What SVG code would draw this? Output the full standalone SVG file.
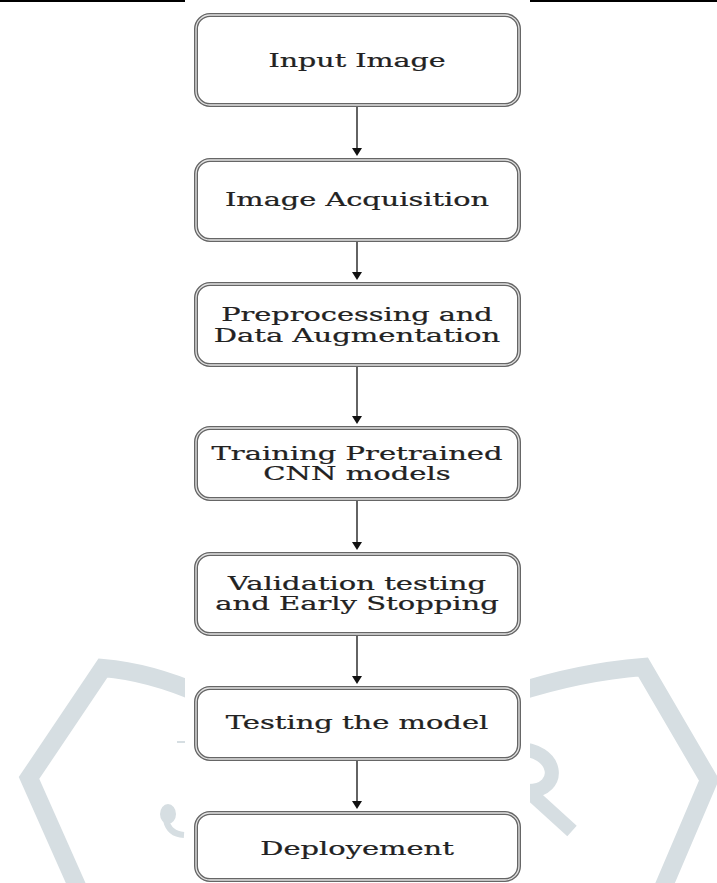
<svg xmlns="http://www.w3.org/2000/svg" width="717" height="883" viewBox="0 0 717 883">
<defs>
<style>
.wm{fill:none;stroke:#d6dee2;stroke-width:18;stroke-linejoin:miter;stroke-miterlimit:10}
.box{fill:#ffffff;stroke:#666666;stroke-width:4}
.inner{fill:none;stroke:#e4e4e4;stroke-width:1.3}
.lbl{font-family:"DejaVu Serif","Liberation Serif",serif;font-size:19px;fill:#222222;stroke:#222222;stroke-width:0.25;text-anchor:middle}
.edge{stroke:#222222;stroke-width:1.4;fill:none}
.head{fill:#111111}
</style>
</defs>
<rect x="0" y="0" width="717" height="883" fill="#ffffff"/>
<g id="watermark">
<path class="wm" d="M 200 694 Q 150 672 103 668 L 29 778 L 81 895"/>
<path class="wm" d="M 515 693 Q 580 672 643 667 L 709 780 L 660 895"/>
<path class="wm" style="stroke-width:14;stroke-linejoin:round" d="M 515 749 C 560 748 563 791 528 791 L 572 831"/>
<ellipse cx="168" cy="814" rx="8" ry="10" fill="#d6dee2"/>
<path d="M 166 820 Q 169 834 184 835" fill="none" stroke="#d6dee2" stroke-width="6"/>
<rect x="177" y="741" width="8" height="2" fill="#d6dee2"/>
</g>
<rect x="185" y="0" width="345" height="883" fill="#ffffff"/>
<g id="topline">
<rect x="0" y="0" width="185" height="2" fill="#000000"/>
<rect x="530" y="0" width="187" height="2" fill="#000000"/>
</g>
<g id="connectors">
<line class="edge" x1="357" y1="107" x2="357" y2="149"/>
<path class="head" d="M 352 148 L 362 148 L 357 156 Z"/>
<line class="edge" x1="357" y1="242" x2="357" y2="273"/>
<path class="head" d="M 352 272 L 362 272 L 357 280 Z"/>
<line class="edge" x1="357" y1="367" x2="357" y2="417"/>
<path class="head" d="M 352 416 L 362 416 L 357 424 Z"/>
<line class="edge" x1="357" y1="501" x2="357" y2="543"/>
<path class="head" d="M 352 542 L 362 542 L 357 550 Z"/>
<line class="edge" x1="357" y1="636" x2="357" y2="677"/>
<path class="head" d="M 352 676 L 362 676 L 357 684 Z"/>
<line class="edge" x1="357" y1="761" x2="357" y2="802"/>
<path class="head" d="M 352 801 L 362 801 L 357 809 Z"/>
</g>
<g id="n1">
<rect class="box" x="196" y="15" width="323" height="90" rx="14"/>
<rect class="inner" x="196" y="15" width="323" height="90" rx="14"/>
<g transform="translate(357,0) scale(1.5,1)"><text class="lbl" x="0" y="67" textLength="118" lengthAdjust="spacingAndGlyphs">Input Image</text></g>
</g>
<g id="n2">
<rect class="box" x="196" y="160" width="323" height="80" rx="14"/>
<rect class="inner" x="196" y="160" width="323" height="80" rx="14"/>
<g transform="translate(357,0) scale(1.5,1)"><text class="lbl" x="0" y="206" textLength="176" lengthAdjust="spacingAndGlyphs">Image Acquisition</text></g>
</g>
<g id="n3">
<rect class="box" x="196" y="284" width="323" height="81" rx="14"/>
<rect class="inner" x="196" y="284" width="323" height="81" rx="14"/>
<g transform="translate(357,0) scale(1.5,1)"><text class="lbl" x="0" y="321" textLength="181" lengthAdjust="spacingAndGlyphs">Preprocessing and</text>
<text class="lbl" x="0" y="342" textLength="191" lengthAdjust="spacingAndGlyphs">Data Augmentation</text></g>
</g>
<g id="n4">
<rect class="box" x="196" y="428" width="323" height="71" rx="14"/>
<rect class="inner" x="196" y="428" width="323" height="71" rx="14"/>
<g transform="translate(357,0) scale(1.5,1)"><text class="lbl" x="0" y="460" textLength="194" lengthAdjust="spacingAndGlyphs">Training Pretrained</text>
<text class="lbl" x="0" y="480" textLength="125" lengthAdjust="spacingAndGlyphs">CNN models</text></g>
</g>
<g id="n5">
<rect class="box" x="196" y="554" width="323" height="80" rx="14"/>
<rect class="inner" x="196" y="554" width="323" height="80" rx="14"/>
<g transform="translate(357,0) scale(1.5,1)"><text class="lbl" x="0" y="590" textLength="172" lengthAdjust="spacingAndGlyphs">Validation testing</text>
<text class="lbl" x="0" y="610" textLength="189" lengthAdjust="spacingAndGlyphs">and Early Stopping</text></g>
</g>
<g id="n6">
<rect class="box" x="196" y="688" width="323" height="71" rx="14"/>
<rect class="inner" x="196" y="688" width="323" height="71" rx="14"/>
<g transform="translate(357,0) scale(1.5,1)"><text class="lbl" x="0" y="729" textLength="175" lengthAdjust="spacingAndGlyphs">Testing the model</text></g>
</g>
<g id="n7">
<rect class="box" x="196" y="813" width="323" height="67" rx="14"/>
<rect class="inner" x="196" y="813" width="323" height="67" rx="14"/>
<g transform="translate(357,0) scale(1.5,1)"><text class="lbl" x="0" y="855" textLength="129" lengthAdjust="spacingAndGlyphs">Deployement</text></g>
</g>
</svg>
